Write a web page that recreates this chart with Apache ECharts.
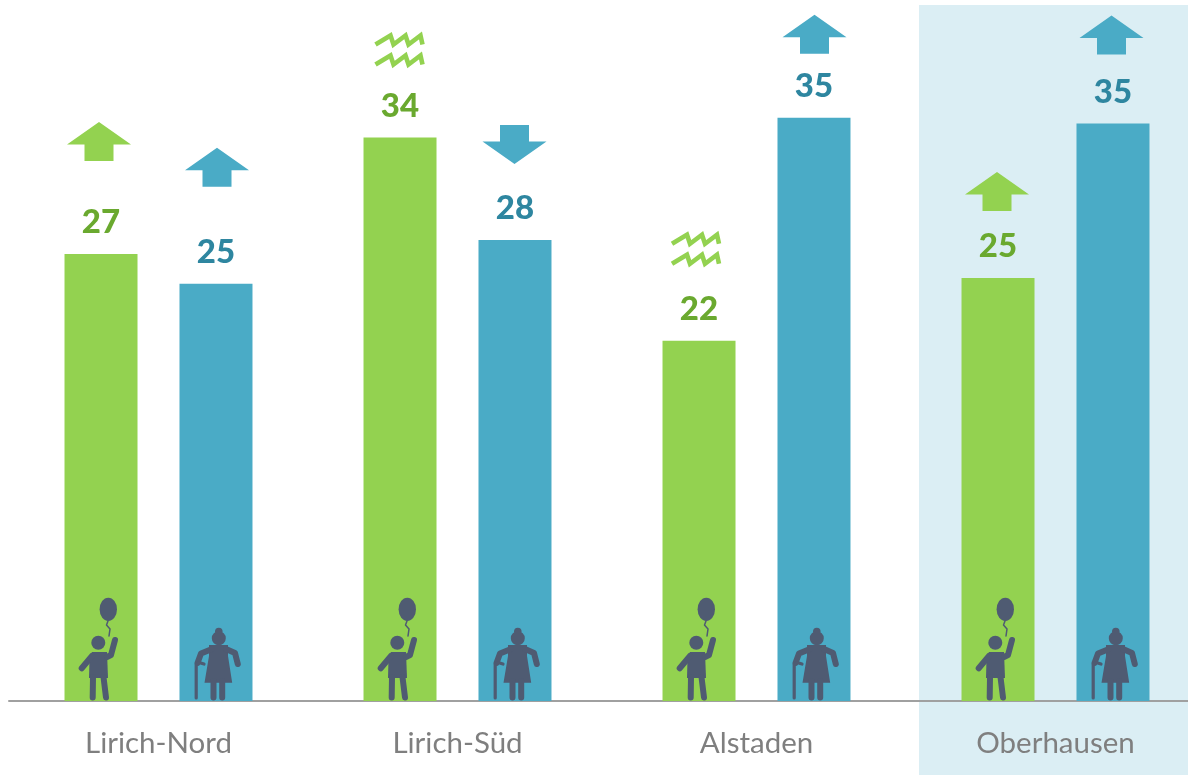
<!DOCTYPE html>
<html>
<head>
<meta charset="utf-8">
<title>Lirich, Alstaden, Oberhausen</title>
<style>
  html, body { margin: 0; padding: 0; background: #fff; }
  #chart { width: 1188px; height: 775px; }
</style>
<script src="https://cdn.jsdelivr.net/npm/echarts@6/dist/echarts.min.js"></script>
</head>
<body>
<div id="chart"></div>
<script>
// data
var categories = ['Lirich-Nord', 'Lirich-Süd', 'Alstaden', 'Oberhausen'];
var kidsValues = [27.05, 34.1, 21.8, 25.6];
var eldersValues = [25.25, 27.9, 35.3, 34.95];
var kidsLabels = ['27', '34', '22', '25'];
var eldersLabels = ['25', '28', '35', '35'];
var kidsTrend = ['up', 'flat', 'flat', 'up'];
var eldersTrend = ['up', 'down', 'up', 'up'];

// layout of the trend icons, measured from the bar top and bar center
var kidsLift = [132, 105, 109, 106];
var eldersLift = [136, 115, 103, 108];
var kidsShift = [-2, -1, -3.5, -1];
var eldersShift = [1, -0.5, 0.5, -1.5];

var GREEN = '#93d250';
var BLUE = '#4aabc6';
var GREEN_TEXT = '#6aa92f';
var BLUE_TEXT = '#2e86a0';
var ICON = '#4f5b72';
var BAR_WIDTH = 73;
var BAR_OFFSET = 57.5;

var arrowUp = 'M32 0L64 22.5L46.5 22.5L46.5 39L17.5 39L17.5 22.5L0 22.5Z';
var arrowDown = 'M17.5 0L46.5 0L46.5 16.5L64 16.5L32 39L0 16.5L17.5 16.5Z';
var zigzag = 'M1 12L16 3L19 12L31 3L34 12L46 3L48 12';

var balloon = 'M-1.4 -91.7a8.7 11.6 0 1 0 17.4 0a8.7 11.6 0 1 0 -17.4 0Z';
var kidHead = 'M-9.7 -58.3a7 7 0 1 0 14 0a7 7 0 1 0 -14 0Z';
var kidTorso = 'M-9 -49L6 -49L7 -23L-12 -23L-11.5 -42Z';
var kidLimbs = 'M6 -44L10 -46L14 -61M-9 -45L-19.3 -32.7M-8 -24L-8.3 -3.5M2.5 -24L5 -3.5';
var kidString = 'M7 -80L5.5 -76L9 -72L8 -65';

var elderHead = 'M-4.2 -62.7a7 7 0 1 0 14 0a7 7 0 1 0 -14 0ZM-1 -69.5a3.8 3.8 0 1 0 7.6 0a3.8 3.8 0 1 0 -7.6 0Z';
var elderDress = 'M-7 -56L12 -56L12 -45L16.2 -18.3L-11.5 -18.3L-7 -45Z';
var elderLimbs = 'M-4 -52L-15 -47.5L-18.5 -38M10 -52L19 -48L21.8 -37M-2.5 -20L-2.5 -3.5M6.2 -20L6.2 -3.5';
var elderCane = 'M-19.8 -3L-19.8 -36L-17 -38.5L-12 -37';

function strokeStyle(color, width) {
  return { fill: 'none', stroke: color, lineWidth: width, lineCap: 'round', lineJoin: 'round' };
}

function fillPath(d, color) {
  return { type: 'path', shape: { pathData: d }, style: { fill: color } };
}

function linePath(d, color, width) {
  return { type: 'path', shape: { pathData: d }, style: strokeStyle(color, width) };
}

// one trend icon above each bar
function trendRender(trend, lift, shift, color, side) {
  return function (params, api) {
    var i = params.dataIndex;
    var top = api.coord([i, api.value(1)]);
    var kind = trend[i];
    var x = top[0] + side * BAR_OFFSET + shift[i];
    var y = top[1] - lift[i];
    var children;
    if (kind === 'flat') {
      children = [
        { type: 'path', x: -24.5, y: 0, shape: { pathData: zigzag }, style: { fill: 'none', stroke: color, lineWidth: 4.6 } },
        { type: 'path', x: -24.5, y: 20, shape: { pathData: zigzag }, style: { fill: 'none', stroke: color, lineWidth: 4.6 } }
      ];
    } else {
      children = [
        { type: 'path', x: -32, y: 0, shape: { pathData: kind === 'up' ? arrowUp : arrowDown }, style: { fill: color } }
      ];
    }
    return { type: 'group', x: x, y: y, children: children };
  };
}

// pictograms standing on the baseline
function kidRender(params, api) {
  var base = api.coord([params.dataIndex, 0]);
  return {
    type: 'group', x: base[0] - BAR_OFFSET, y: base[1],
    children: [
      fillPath(balloon, ICON),
      linePath(kidString, ICON, 1.5),
      fillPath(kidHead, ICON),
      fillPath(kidTorso, ICON),
      linePath(kidLimbs, ICON, 6)
    ]
  };
}

function elderRender(params, api) {
  var base = api.coord([params.dataIndex, 0]);
  return {
    type: 'group', x: base[0] + BAR_OFFSET, y: base[1],
    children: [
      fillPath(elderHead, ICON),
      fillPath(elderDress, ICON),
      linePath(elderLimbs, ICON, 6),
      linePath(elderCane, ICON, 3.2)
    ]
  };
}

function pairs(values) {
  return values.map(function (v, i) { return [i, v]; });
}

function barLabel(labels, color) {
  return {
    show: true,
    position: 'top',
    distance: 15,
    fontFamily: 'Lato',
    fontWeight: 900,
    fontSize: 33,
    color: color,
    formatter: function (p) { return labels[p.dataIndex]; }
  };
}

var option = {
  animation: false,
  tooltip: { show: false },
  graphic: [
    {
      type: 'rect',
      z: 0,
      silent: true,
      shape: { x: 919, y: 5, width: 269, height: 770 },
      style: { fill: '#dbeef4' }
    }
  ],
  // the last band runs past the right edge of the page
  grid: { left: 9, width: 1196, top: 0, bottom: 74, outerBoundsMode: 'none' },
  xAxis: {
    type: 'category',
    data: categories,
    axisTick: { show: false },
    axisLine: { lineStyle: { color: '#a0a0a0', width: 2 } },
    axisLabel: { color: '#7f7f7f', fontFamily: 'Lato', fontSize: 29.5, margin: 27 }
  },
  yAxis: { type: 'value', min: 0, max: 42.42, show: false },
  series: [
    {
      type: 'bar',
      name: 'kids',
      data: kidsValues,
      barWidth: BAR_WIDTH,
      barGap: '57.5%',
      itemStyle: { color: GREEN },
      label: barLabel(kidsLabels, GREEN_TEXT)
    },
    {
      type: 'bar',
      name: 'elders',
      data: eldersValues,
      barWidth: BAR_WIDTH,
      barGap: '57.5%',
      itemStyle: { color: BLUE },
      label: barLabel(eldersLabels, BLUE_TEXT)
    },
    { type: 'custom', data: pairs(kidsValues), renderItem: trendRender(kidsTrend, kidsLift, kidsShift, GREEN, -1), z: 3, silent: true },
    { type: 'custom', data: pairs(eldersValues), renderItem: trendRender(eldersTrend, eldersLift, eldersShift, BLUE, 1), z: 3, silent: true },
    { type: 'custom', data: pairs(kidsValues), renderItem: kidRender, z: 3, silent: true },
    { type: 'custom', data: pairs(eldersValues), renderItem: elderRender, z: 3, silent: true }
  ]
};

var myChart = echarts.init(document.getElementById('chart'));
myChart.setOption(option);
</script>
</body>
</html>
